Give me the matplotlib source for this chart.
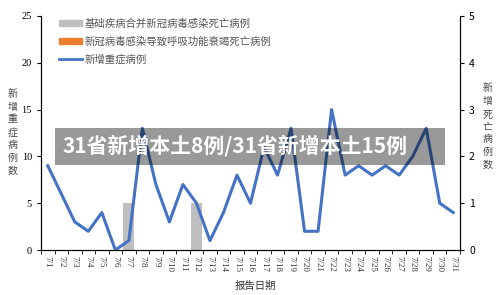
import numpy as np
import matplotlib.pyplot as plt
from matplotlib.patches import Patch
from matplotlib.lines import Line2D

plt.rcParams['font.family'] = ['Noto Sans CJK SC', 'DejaVu Sans']

days = ['7/%d' % d for d in range(1, 32)]
severe = [9, 6, 3, 2, 4, 0, 1, 13, 7, 3, 7, 5, 1, 4, 8, 5, 11, 8, 13, 2,
          2, 15, 8, 9, 8, 9, 8, 10, 13, 5, 4]
death_basic = [0]*31
death_basic[6] = 1
death_basic[11] = 1
death_resp = [0]*31

fig = plt.figure(figsize=(5, 2.95), dpi=100)
ax = fig.add_axes([0.082, 0.1525, 0.838, 0.7935])
ax2 = ax.twinx()

x = np.arange(len(days))
ax2.bar(x, death_basic, width=0.8, color='#BFBFBF', zorder=1)
ax2.bar(x, death_resp, width=0.8, color='#ED7D31', bottom=death_basic, zorder=1)
ax.plot(x, severe, color='#4472C4', lw=2.2, zorder=3)
ax.set_zorder(ax2.get_zorder() + 1)
ax.patch.set_visible(False)

ax.set_xlim(-0.5, 30.5)
ax.set_ylim(0, 25)
ax.set_yticks([0, 5, 10, 15, 20, 25])
ax2.set_ylim(0, 5)
ax2.set_yticks([0, 1, 2, 3, 4, 5])

ax.set_xticks(x)
ax.set_xticklabels(days, rotation=270, fontsize=6.5, family='Liberation Serif', color='#333333')
ax.set_xticks(np.arange(-0.5, 31, 1), minor=True)
ax.tick_params(axis='x', which='major', length=0, pad=4)
ax.tick_params(axis='x', which='minor', length=3, direction='out', width=0.6)
ax.tick_params(axis='y', length=3, width=0.8, labelsize=7.5)
for t in ax.get_yticklabels():
    t.set_family('Liberation Serif')
ax2.tick_params(axis='y', length=3, width=0.8, labelsize=7.5)

for a in (ax, ax2):
    a.spines['top'].set_visible(False)
ax.spines['left'].set_color('black')
ax2.spines['right'].set_color('#333333')

fig.text(0.025, 0.551, '\n'.join('新增重症病例数'), fontsize=7.2, color='#444444',
         ha='center', va='center', linespacing=1.35)
fig.text(0.975, 0.571, '\n'.join('新增死亡病例数'), fontsize=7.2, color='#444444',
         ha='center', va='center', linespacing=1.35)
fig.text(0.51, 0.03, '报告日期', fontsize=7.5, color='#333333', ha='center', va='center')

handles = [Patch(color='#BFBFBF'), Patch(color='#ED7D31'),
           Line2D([], [], color='#4472C4', lw=2)]
labels = ['基础疾病合并新冠病毒感染死亡病例', '新冠病毒感染导致呼吸功能衰竭死亡病例', '新增重症病例']
ax.legend(handles, labels, loc='upper left', bbox_to_anchor=(0.02, 1.03), frameon=False,
          fontsize=7.5, labelcolor='#555555', handlelength=2.2, handleheight=0.6,
          labelspacing=0.75, handletextpad=0.3)

fig.patches.append(plt.Rectangle((0.11, 0.44), 0.78, 0.125, transform=fig.transFigure,
                                 facecolor='black', alpha=0.4, edgecolor='none', zorder=10))
fig.text(0.125, 0.505, '31省新增本土8例/31省新增本土15例', fontsize=15, fontweight='bold',
         color='white', ha='left', va='center', zorder=11)

fig.savefig('out.png', dpi=100)
